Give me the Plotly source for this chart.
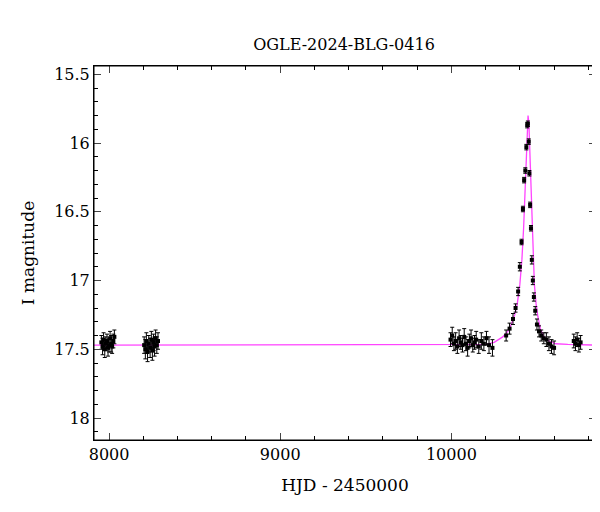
import plotly.graph_objects as go

# observations (HJD - 2450000, I mag, error)
hjd = [7955, 7962, 7968, 7975, 7981, 7988, 7994, 8000, 8006, 8012, 8018, 8025, 8031,
       8205, 8212, 8218, 8225, 8232, 8240, 8247, 8253, 8260, 8266, 8272, 8279, 8286,
       9995, 10005, 10015, 10025, 10035, 10045, 10055, 10065, 10075, 10085, 10095,
       10105, 10115, 10125, 10135, 10145, 10160, 10175, 10190, 10205, 10220, 10240,
       10320, 10340, 10360, 10375, 10390, 10400, 10410, 10418, 10425, 10432, 10438,
       10443, 10447, 10452, 10456, 10460, 10465, 10470, 10476, 10482, 10490, 10500,
       10512, 10525, 10540, 10555, 10570, 10585, 10600,
       10715, 10725, 10735, 10745, 10755]
mag = [17.45, 17.48, 17.43, 17.50, 17.46, 17.44, 17.49, 17.47, 17.42, 17.46, 17.48, 17.44, 17.41,
       17.47, 17.50, 17.44, 17.52, 17.46, 17.49, 17.43, 17.51, 17.45, 17.48, 17.42, 17.47, 17.44,
       17.43, 17.40, 17.46, 17.44, 17.48, 17.42, 17.45, 17.47, 17.41, 17.46, 17.49,
       17.44, 17.42, 17.47, 17.45, 17.43, 17.48, 17.44, 17.46, 17.42, 17.47, 17.49,
       17.40, 17.35, 17.28, 17.20, 17.08, 16.90, 16.72, 16.48, 16.27, 16.20, 16.03,
       15.87, 15.86, 15.99, 16.22, 16.45, 16.62, 16.85, 17.00, 17.12, 17.22, 17.32,
       17.37, 17.40, 17.42, 17.43, 17.46, 17.48, 17.49,
       17.44, 17.46, 17.43, 17.47, 17.45]
err = [0.05, 0.06, 0.05, 0.06, 0.05, 0.05, 0.06, 0.05, 0.05, 0.06, 0.05, 0.05, 0.05,
       0.06, 0.07, 0.06, 0.07, 0.06, 0.07, 0.06, 0.07, 0.06, 0.07, 0.06, 0.06, 0.06,
       0.05, 0.06, 0.05, 0.06, 0.05, 0.06, 0.05, 0.05, 0.06, 0.05, 0.06,
       0.05, 0.06, 0.05, 0.05, 0.06, 0.05, 0.06, 0.05, 0.05, 0.06, 0.06,
       0.04, 0.04, 0.04, 0.03, 0.03, 0.03, 0.02, 0.02, 0.02, 0.02, 0.02,
       0.02, 0.02, 0.02, 0.02, 0.02, 0.02, 0.03, 0.03, 0.03, 0.03, 0.04,
       0.04, 0.04, 0.04, 0.05, 0.05, 0.05, 0.05,
       0.05, 0.05, 0.05, 0.05, 0.05]

# model curve samples
model_t = [7900, 10200, 10250, 10300, 10330, 10350, 10370, 10385, 10400, 10412, 10422,
           10430, 10437, 10443, 10448, 10453, 10458, 10464, 10470, 10477, 10485, 10495,
           10505, 10520, 10540, 10570, 10610, 10680, 10850]
model_m = [17.47, 17.465, 17.45, 17.41, 17.37, 17.32, 17.25, 17.17, 17.03, 16.85, 16.62,
           16.38, 16.12, 15.92, 15.80, 15.86, 16.05, 16.35, 16.60, 16.85, 17.03, 17.17,
           17.26, 17.35, 17.41, 17.44, 17.46, 17.465, 17.47]

font = "DejaVu Serif"
fig = go.Figure()
fig.add_trace(go.Scatter(
    x=model_t, y=model_m, mode="lines", line=dict(color="#ff44ff", width=1.3),
    hoverinfo="skip"))
fig.add_trace(go.Scatter(
    x=hjd, y=mag, mode="markers",
    marker=dict(color="black", size=4, symbol="square"),
    error_y=dict(type="data", array=err, color="black", thickness=1, width=2)))

axis = dict(showline=True, mirror="allticks", linecolor="black", linewidth=1,
            ticks="inside", ticklen=7, showgrid=False, zeroline=False,
            minor=dict(ticks="inside", ticklen=4, tickcolor="black"),
            tickfont=dict(family=font, size=16, color="black"))
fig.update_xaxes(axis, range=[7912, 10845], tickvals=[8000, 9000, 10000],
                 ticktext=["8000", "9000", "10000"], minor_dtick=200,
                 title=dict(text="HJD - 2450000", font=dict(family=font, size=17, color="black")))
fig.update_yaxes(axis, range=[18.16, 15.44], tickvals=[15.5, 16, 16.5, 17, 17.5, 18],
                 ticktext=["15.5", "16", "16.5", "17", "17.5", "18"], minor_dtick=0.1,
                 title=dict(text="I magnitude", font=dict(family=font, size=17, color="black")))
fig.add_shape(type="rect", xref="paper", yref="paper", x0=0, y0=0, x1=1, y1=1,
              line=dict(color="black", width=1))
fig.update_layout(
    width=600, height=512, showlegend=False,
    plot_bgcolor="white", paper_bgcolor="white",
    margin=dict(l=86, r=12, t=58, b=80),
    title=dict(text="OGLE-2024-BLG-0416", x=0.56, y=0.94,
               font=dict(family=font, size=16, color="black")))
fig.write_html("out.html")
